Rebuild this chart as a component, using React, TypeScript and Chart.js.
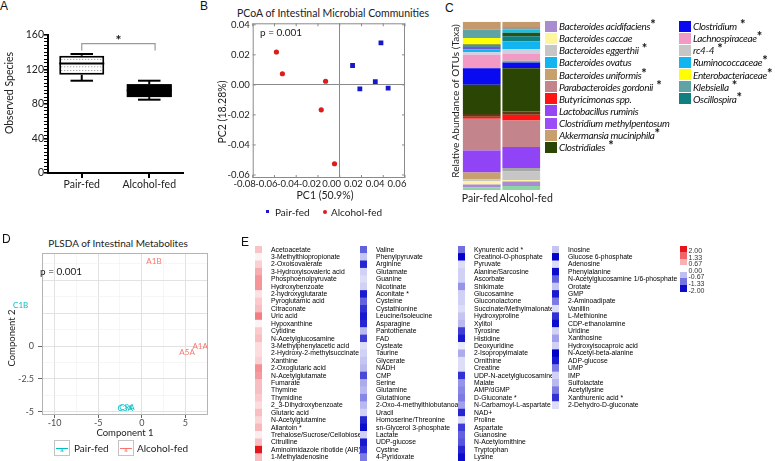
import React, { useEffect, useRef } from 'react';
import { Chart, registerables } from 'chart.js';

Chart.register(...registerables);

const SANS = 'Lato, "Open Sans", sans-serif';
const ARIAL = '"Liberation Sans", Arial, sans-serif';

// ---------------- Panel A: observed species (box plot)
const groups = ['Pair-fed', 'Alcohol-fed'];
const speciesMin = [107, 85];
const speciesQ1 = [114, 88];
const speciesMedian = [127, 96];
const speciesQ3 = [136, 103];
const speciesMax = [138, 107];
const speciesLabelTicks = [0, 40, 80, 120, 160];
const sigBracket = 150;
const sigBracketEnd = 142;

// ---------------- Panel B: PCoA
const pcoaPairX = [0.0379, 0.0118, 0.0327, 0.0185, 0.0445];
const pcoaPairY = [0.028, 0.0129, 0.0022, -0.0026, -0.0022];
const pcoaAlcX = [-0.0582, -0.0527, -0.013, -0.017, -0.0048];
const pcoaAlcY = [0.0219, 0.0074, 0.0024, -0.0166, -0.0525];
const pcoaXTicks = [-0.08, -0.06, -0.04, -0.02, 0, 0.02, 0.04, 0.06];
const pcoaYTicks = [-0.06, -0.04, -0.02, 0, 0.02, 0.04];

// ---------------- Panel C: relative abundance (stacked, bottom to top)
const segNames = [
  'Other 1', 'Bacteroides acidifaciens', 'Bacteroides caccae', 'Bacteroides eggerthii', 'rc4-4',
  'Bacteroides uniformis', 'Lactobacillus ruminis', 'Parabacteroides gordonii', 'Butyricimonas spp.', 'Other 2',
  'Clostridiales', 'Clostridium', 'Other 3', 'Lachnospiraceae', 'Other 4',
  'Ruminococcaceae', 'Clostridium methylpentosum', 'Oscillospira', 'Other 5', 'Enterobacteriaceae',
  'Bacteroides ovatus', 'Klebsiella', 'Other 6', 'Akkermansia muciniphila',
];
const segPair = [1.6, 1.6, 2.2, 1.0, 0, 4.0, 13.1, 18.8, 1.2, 1.6, 17.4, 9.9, 0, 7.9, 1.6, 1.6, 1.6, 0.8, 0.6, 3.8, 0, 5.0, 0, 4.7];
const segAlc = [2.4, 2.6, 1.0, 5.0, 2.0, 0, 12.5, 15.8, 3.4, 2.0, 25.7, 3.4, 1.0, 4.0, 3.0, 4.6, 0, 3.0, 2.0, 0, 1.8, 0, 1.6, 3.2];
const segColors = [
  '#8fd3a8', '#a98bd0', '#fff4a3', '#c6c6c6', '#a6a6a6',
  '#c7a06e', '#9143f6', '#c4848c', '#ff1212', '#5c3a12',
  '#2b4504', '#0a0af0', '#6cc070', '#f29ac6', '#cfcfe0',
  '#12b5ef', '#6a5acd', '#0f7f80', '#2e5010', '#ffff00',
  '#18c0e0', '#5fa3a5', '#9a9a9a', '#c49a6c',
];
const legendNames1 = [
  'Bacteroides acidifaciens', 'Bacteroides caccae', 'Bacteroides eggerthii', 'Bacteroides ovatus',
  'Bacteroides uniformis', 'Parabacteroides gordonii', 'Butyricimonas spp.', 'Lactobacillus ruminis',
  'Clostridium methylpentosum', 'Akkermansia muciniphila', 'Clostridiales',
];
const legendStars1 = ['*', '', ' *', '', '*', ' *', '', '', '', '*', ' *'];
const legendColors1 = ['#a98bd0', '#fff59d', '#c6c6c6', '#12b5ef', '#c7a06e', '#c4848c', '#ff1414', '#9645f5', '#9c4df7', '#c7a06e', '#2b4504'];
const legendNames2 = ['Clostridium', 'Lachnospiraceae', 'rc4-4', 'Ruminococcaceae', 'Enterobacteriaceae', 'Klebsiella', 'Oscillospira'];
const legendStars2 = [' *', '*', ' *', '*', '*', ' *', '*'];
const legendColors2 = ['#0a0af0', '#f29ac6', '#c6c6c6', '#12b5ef', '#ffff00', '#5fa3a5', '#0f7f80'];

// ---------------- Panel D: PLSDA
const plsdaLabels = ['A1B', 'C1B', 'A1A', 'A5A', 'C3A', 'C9A'];
const plsdaGroup = ['Alcohol-fed', 'Pair-fed', 'Alcohol-fed', 'Alcohol-fed', 'Pair-fed', 'Pair-fed'];
const plsdaX = [1.4, -13.9, 6.7, 5.2, -1.9, -1.7];
const plsdaY = [6.4, 3.1, 0.0, -0.5, -4.75, -4.65];
const plsdaXGrid = [-10, -7.5, -5, -2.5, 0, 2.5, 5, 7.5];
const plsdaXTickLabels = [-10, -5, 0, 5];
const plsdaYGrid = [-5, -3.75, -2.5, -1.25, 0, 1.25, 2.5, 3.75, 5, 6.25];
const plsdaYTickLabels = [-5, -2.5, 0];

// ---------------- Panel E: metabolite heatmap
const metCol1 = [
  'Acetoacetate', '3-Methylthiopropionate', '2-Oxoisovalerate', '3-Hydroxyisovaleric acid', 'Phosphoenolpyruvate',
  'Hydroxybenzoate', '2-hydroxyglutarate', 'Pyroglutamic acid', 'Citraconate', 'Uric acid', 'Hypoxanthine',
  'Cytidine', 'N-Acetylglucosamine', '3-Methylphenylacetic acid', '2-Hydroxy-2-methylsuccinate', 'Xanthine',
  '2-Oxoglutaric acid', 'N-Acetylglutamate', 'Fumarate', 'Thymine', 'Thymidine', '2_3-Dihydroxybenzoate',
  'Glutaric acid', 'N-Acetylglutamine', 'Allantoin *', 'Trehalose/Sucrose/Cellobiose', 'Citrulline',
  'Aminoimidazole ribotide (AIR)', '1-Methyladenosine',
];
const valCol1 = [0.5, 0.1, 0.4, 0.7, 0.9, 0.9, 0.25, 0.45, 0.55, 1.1, 0.1, 0.45, 0.55, 0.3, 0.3, 0.4, 0.95, 0.85, 0.55, 0.55, 0.45, 0.3, 0.55, 0.35, 0.6, 0.15, 0.55, 2.0, 0.55];
const metCol2 = [
  'Valine', 'Phenylpyruvate', 'Arginine', 'Glutamate', 'Guanine', 'Nicotinate', 'Aconitate *', 'Cysteine',
  'Cystathionine', 'Leucine/Isoleucine', 'Asparagine', 'Pantothenate', 'FAD', 'Cysteate', 'Taurine', 'Glycerate',
  'NADH', 'CMP', 'Serine', 'Glutamine', 'Glutathione', '2-Oxo-4-methylthiobutanoate', 'Uracil',
  'Homoserine/Threonine', 'sn-Glycerol 3-phosphate', 'Lactate', 'UDP-glucose', 'Cystine', '4-Pyridoxate',
];
const valCol2 = [-1.2, -0.4, -1.7, -0.3, -0.2, -0.3, -1.8, -1.2, -1.6, -1.8, -1.7, -0.5, -1.5, -0.2, -0.3, -0.4, -0.5, -1.4, -0.6, -0.5, -0.9, -0.5, -0.3, -1.7, -1.9, -0.3, -1.8, -1.6, -1.0];
const metCol3 = [
  'Kynurenic acid *', 'Creatinol-O-phosphate', 'Pyruvate', 'Alanine/Sarcosine', 'Ascorbate', 'Shikimate',
  'Glucosamine', 'Gluconolactone', 'Succinate/Methylmalonate', 'Hydroxyproline', 'Xylitol', 'Tyrosine',
  'Histidine', 'Deoxyuridine', '2-Isopropylmalate', 'Ornithine', 'Creatine', 'UDP-N-acetylglucosamine', 'Malate',
  'AMP/dGMP', 'D-Gluconate *', 'N-Carbamoyl-L-aspartate', 'NAD+', 'Proline', 'Aspartate', 'Guanosine',
  'N-Acetylornithine', 'Tryptophan', 'Lysine',
];
const valCol3 = [-1.1, -2.0, -0.2, -0.3, -0.3, -0.8, -0.3, -0.3, -0.2, -0.4, -0.5, -1.5, -1.8, -0.1, -0.6, -0.2, -0.2, -1.6, -0.8, -0.9, -1.0, -0.7, -1.7, -0.2, -1.5, -1.2, -1.3, -1.7, -1.9];
const metCol4 = [
  'Inosine', 'Glucose 6-phosphate', 'Adenosine', 'Phenylalanine', 'N-Acetylglucosamine 1/6-phosphate', 'Orotate',
  'GMP', '2-Aminoadipate', 'Vanillin', 'L-Methionine', 'CDP-ethanolamine', 'Uridine', 'Xanthosine',
  'Hydroxyisocaproic acid', 'N-Acetyl-beta-alanine', 'ADP-glucose', 'UMP', 'IMP', 'Sulfolactate', 'Acetyllysine',
  'Xanthurenic acid *', '2-Dehydro-D-gluconate',
];
const valCol4 = [-0.4, -2.0, -0.2, -1.9, -1.2, -0.4, -1.8, -1.0, -0.2, -1.6, -1.9, -0.3, -0.7, -0.3, -2.0, -1.8, -1.0, -0.3, -0.5, -1.0, -1.6, -0.2];
const heatLegendTicks = ['2.00', '1.33', '0.67', '0.00', '-0.67', '-1.33', '-2.00'];
const heatLegendSwatches = [2, 1.33, 0.67, -0.45, -1.05, -1.9];

// ---------------- helpers
const PAIR_D = '#00BFC4';
const ALC_D = '#F8766D';
const ROW_H = 7.4;
const CELL_W = 7;

function heatColor(v: number) {
  if (v >= 0) {
    const t = Math.min(v / 2, 1);
    return `rgb(${Math.round(255 - 23 * t)},${Math.round(255 - 235 * t)},${Math.round(255 - 227 * t)})`;
  }
  const t = Math.min(-v / 2, 1);
  return `rgb(${Math.round(246 - 246 * t)},${Math.round(246 - 246 * t)},${Math.round(252 - 50 * t)})`;
}

function seg(ctx: any, x1: number, y1: number, x2: number, y2: number) {
  ctx.beginPath();
  ctx.moveTo(x1, y1);
  ctx.lineTo(x2, y2);
  ctx.stroke();
}

const base = { responsive: false, animation: false, devicePixelRatio: 1, events: [] as string[] };
const noPlugins = { legend: { display: false }, tooltip: { enabled: false }, title: { display: false } };

// ---------------- plugins
const boxPlugin = {
  id: 'boxWhiskers',
  afterDatasetsDraw(chart: any) {
    const ctx = chart.ctx;
    const y = chart.scales.y;
    const meta = chart.getDatasetMeta(0);
    ctx.save();
    meta.data.forEach((bar: any, i: number) => {
      const cx = bar.x;
      const half = bar.width / 2;
      const pMax = y.getPixelForValue(speciesMax[i]);
      const pMin = y.getPixelForValue(speciesMin[i]);
      const pQ3 = y.getPixelForValue(speciesQ3[i]);
      const pQ1 = y.getPixelForValue(speciesQ1[i]);
      const pMed = y.getPixelForValue(speciesMedian[i]);
      if (i === 0) {
        ctx.strokeStyle = '#8a8a8a';
        ctx.lineWidth = 1;
        ctx.setLineDash([1, 2]);
        for (let yy = pQ3 + 3.7; yy < pQ1 - 1.5; yy += 3.7) {
          if (Math.abs(yy - pMed) > 1.5) seg(ctx, cx - half + 2, yy, cx + half - 2, yy);
        }
        ctx.setLineDash([]);
      } else {
        ctx.fillStyle = '#000';
        ctx.fillRect(cx - half, pQ3, 2 * half, pQ1 - pQ3);
      }
      ctx.strokeStyle = '#000';
      ctx.lineWidth = 2;
      seg(ctx, cx, pQ3, cx, pMax);
      seg(ctx, cx, pQ1, cx, pMin);
      const cap = half * 0.5;
      seg(ctx, cx - cap, pMax, cx + cap, pMax);
      seg(ctx, cx - cap, pMin, cx + cap, pMin);
      seg(ctx, cx - half, pMed, cx + half, pMed);
    });
    const b0 = meta.data[0];
    const b1 = meta.data[1];
    const x0 = b0.x;
    const x1 = b1.x + b1.width * 0.13;
    const yb = y.getPixelForValue(sigBracket);
    const ye = y.getPixelForValue(sigBracketEnd);
    ctx.strokeStyle = '#9a9a9a';
    ctx.lineWidth = 1.2;
    ctx.beginPath();
    ctx.moveTo(x0, ye);
    ctx.lineTo(x0, yb);
    ctx.lineTo(x1, yb);
    ctx.lineTo(x1, ye);
    ctx.stroke();
    ctx.fillStyle = '#111';
    ctx.font = `bold 14px ${SANS}`;
    ctx.textAlign = 'center';
    ctx.textBaseline = 'alphabetic';
    ctx.fillText('*', (x0 + x1) / 2, yb + 1);
    ctx.restore();
  },
};

const frameTicksPlugin = {
  id: 'frameTicks',
  afterDraw(chart: any) {
    const { ctx, chartArea: a } = chart;
    const x = chart.scales.x;
    const y = chart.scales.y;
    ctx.save();
    ctx.strokeStyle = '#8a8a8a';
    ctx.lineWidth = 1;
    ctx.strokeRect(a.left + 0.5, a.top + 0.5, a.right - a.left - 1, a.bottom - a.top - 1);
    x.ticks.forEach((t: any) => {
      const px = x.getPixelForValue(t.value);
      seg(ctx, px, a.bottom, px, a.bottom - 3);
      seg(ctx, px, a.top, px, a.top + 3);
    });
    y.ticks.forEach((t: any) => {
      const py = y.getPixelForValue(t.value);
      seg(ctx, a.left, py, a.left + 3, py);
      seg(ctx, a.right, py, a.right - 3, py);
    });
    ctx.restore();
  },
};

const panelBorderPlugin = {
  id: 'panelBorder',
  beforeDatasetsDraw(chart: any) {
    const { ctx, chartArea: a } = chart;
    ctx.save();
    ctx.strokeStyle = '#b4b4b4';
    ctx.lineWidth = 1;
    ctx.strokeRect(a.left + 0.5, a.top + 0.5, a.right - a.left - 1, a.bottom - a.top - 1);
    ctx.restore();
  },
};

const plsdaLabelPlugin = {
  id: 'plsdaLabels',
  afterDatasetsDraw(chart: any) {
    const { ctx } = chart;
    const x = chart.scales.x;
    const y = chart.scales.y;
    ctx.save();
    ctx.font = `8px ${SANS}`;
    ctx.textAlign = 'center';
    ctx.textBaseline = 'middle';
    plsdaLabels.forEach((lab, i) => {
      ctx.fillStyle = plsdaGroup[i] === 'Pair-fed' ? PAIR_D : ALC_D;
      ctx.fillText(lab, x.getPixelForValue(plsdaX[i]), y.getPixelForValue(plsdaY[i]));
    });
    ctx.restore();
  },
};

// ---------------- chart configs
function configA() {
  return {
    type: 'bar',
    data: {
      labels: groups,
      datasets: [{
        data: groups.map((_, i) => [speciesQ1[i], speciesQ3[i]]),
        backgroundColor: ['#ffffff', '#000000'],
        borderColor: '#000',
        borderWidth: 2,
        borderSkipped: false,
        barPercentage: 0.667,
        categoryPercentage: 1,
      }],
    },
    options: {
      ...base,
      layout: { padding: { left: 0, top: 35, right: 17, bottom: 0 } },
      plugins: noPlugins,
      scales: {
        x: {
          grid: { display: true, drawOnChartArea: false, offset: false, tickLength: 5, color: '#000', lineWidth: 2 },
          border: { color: '#000', width: 2 },
          ticks: { font: { family: SANS, size: 10.5 }, color: '#222', padding: 0, maxRotation: 0, autoSkip: false },
          afterFit: (s: any) => { s.height = 20; },
        },
        y: {
          min: 0,
          max: 160,
          ticks: {
            stepSize: 4,
            autoSkip: false,
            callback: (v: number) => (speciesLabelTicks.includes(v) ? String(v) : ''),
            font: { family: SANS, size: 10.5 },
            color: '#222',
            padding: 0,
          },
          grid: {
            drawOnChartArea: false,
            tickLength: 4,
            color: '#000',
            lineWidth: (c: any) => (c.tick && speciesLabelTicks.includes(c.tick.value) ? 1.6 : 1),
          },
          border: { color: '#000', width: 2 },
          afterFit: (s: any) => { s.width = 48; },
        },
      },
    },
    plugins: [boxPlugin],
  };
}

const fmt2 = (v: number) => (Math.abs(v) < 1e-9 ? '0.00' : v.toFixed(2));

function configB() {
  return {
    type: 'scatter',
    data: {
      datasets: [
        {
          label: 'Pair-fed',
          data: pcoaPairX.map((x, i) => ({ x, y: pcoaPairY[i] })),
          pointStyle: 'rect',
          pointRadius: 3.4,
          backgroundColor: '#1818c8',
          borderWidth: 0,
        },
        {
          label: 'Alcohol-fed',
          data: pcoaAlcX.map((x, i) => ({ x, y: pcoaAlcY[i] })),
          pointStyle: 'circle',
          pointRadius: 2.6,
          backgroundColor: '#dd1c1c',
          borderWidth: 0,
        },
      ],
    },
    options: {
      ...base,
      layout: { padding: { left: 0, top: 23.3, right: 20, bottom: 0 } },
      plugins: noPlugins,
      scales: {
        x: {
          min: -0.08,
          max: 0.06,
          afterBuildTicks: (s: any) => { s.ticks = pcoaXTicks.map((v) => ({ value: v })); },
          ticks: { callback: fmt2, font: { family: SANS, size: 9.5 }, color: '#222', padding: 0, labelOffset: -8, maxRotation: 0, autoSkip: false },
          grid: { drawTicks: false, color: (c: any) => (c.tick && Math.abs(c.tick.value) < 1e-9 ? '#8a8a8a' : 'rgba(0,0,0,0)'), lineWidth: 1 },
          border: { display: false },
          afterFit: (s: any) => { s.height = 14; },
        },
        y: {
          min: -0.062,
          max: 0.041,
          afterBuildTicks: (s: any) => { s.ticks = pcoaYTicks.map((v) => ({ value: v })); },
          ticks: { callback: fmt2, font: { family: SANS, size: 9.5 }, color: '#222', padding: 3, autoSkip: false },
          grid: { drawTicks: false, color: (c: any) => (c.tick && Math.abs(c.tick.value) < 1e-9 ? '#8a8a8a' : 'rgba(0,0,0,0)'), lineWidth: 1 },
          border: { display: false },
          afterFit: (s: any) => { s.width = 37.7; },
        },
      },
    },
    plugins: [frameTicksPlugin],
  };
}

function configC() {
  return {
    type: 'bar',
    data: {
      labels: groups,
      datasets: segNames.map((n, i) => ({
        label: n,
        data: [segPair[i], segAlc[i]],
        backgroundColor: segColors[i],
        borderWidth: 0,
        barPercentage: 0.955,
        categoryPercentage: 1,
      })),
    },
    options: {
      ...base,
      layout: { padding: { left: 0, top: 21.7, right: 9, bottom: 0 } },
      plugins: noPlugins,
      scales: {
        x: {
          stacked: true,
          grid: { display: false },
          border: { display: false },
          ticks: { display: false },
          afterFit: (s: any) => { s.height = 16; },
        },
        y: {
          stacked: true,
          min: 0,
          max: 100,
          ticks: { display: false },
          grid: { display: false },
          border: { display: false },
          afterFit: (s: any) => { s.width = 22; },
        },
      },
    },
  };
}

function configD() {
  return {
    type: 'scatter',
    data: {
      datasets: [{ data: plsdaX.map((x, i) => ({ x, y: plsdaY[i] })), pointRadius: 0 }],
    },
    options: {
      ...base,
      layout: { padding: { left: 0, top: 18, right: 7, bottom: 0 } },
      plugins: noPlugins,
      scales: {
        x: {
          min: -11.45,
          max: 7.6,
          afterBuildTicks: (s: any) => { s.ticks = plsdaXGrid.map((v) => ({ value: v })); },
          ticks: {
            callback: (v: number) => (plsdaXTickLabels.includes(v) ? String(v) : ''),
            font: { family: SANS, size: 9 },
            color: '#4d4d4d',
            padding: 0,
            autoSkip: false,
            maxRotation: 0,
          },
          grid: {
            color: (c: any) => (c.tick && c.tick.value % 5 === 0 ? '#e2e2e2' : '#f0f0f0'),
            lineWidth: (c: any) => (c.tick && c.tick.value % 5 === 0 ? 1 : 0.6),
            tickLength: 3,
            tickColor: (c: any) => (c.tick && plsdaXTickLabels.includes(c.tick.value) ? '#666' : 'rgba(0,0,0,0)'),
          },
          border: { display: false },
          afterFit: (s: any) => { s.height = 14; },
        },
        y: {
          min: -5.23,
          max: 7.05,
          afterBuildTicks: (s: any) => { s.ticks = plsdaYGrid.map((v) => ({ value: v })); },
          ticks: {
            callback: (v: number) => (plsdaYTickLabels.includes(v) ? String(v) : ''),
            font: { family: SANS, size: 9 },
            color: '#4d4d4d',
            padding: 4,
            autoSkip: false,
          },
          grid: {
            color: (c: any) => (c.tick && c.tick.value % 2.5 === 0 ? '#e2e2e2' : '#f0f0f0'),
            lineWidth: (c: any) => (c.tick && c.tick.value % 2.5 === 0 ? 1 : 0.6),
            tickLength: 4,
            tickColor: (c: any) => (c.tick && plsdaYTickLabels.includes(c.tick.value) ? '#666' : 'rgba(0,0,0,0)'),
          },
          border: { display: false },
          afterFit: (s: any) => { s.width = 42; },
        },
      },
    },
    plugins: [panelBorderPlugin, plsdaLabelPlugin],
  };
}

function configHeat(names: string[], values: number[], width: number) {
  return {
    type: 'bar',
    data: {
      labels: names,
      datasets: [{
        data: values.map(() => 1),
        backgroundColor: values.map(heatColor),
        borderWidth: 0,
        barPercentage: 1,
        categoryPercentage: 1,
      }],
    },
    options: {
      ...base,
      indexAxis: 'y',
      layout: { padding: { left: 0, right: 0, top: 5, bottom: 5 } },
      plugins: noPlugins,
      scales: {
        x: { display: false, min: 0, max: 1 },
        y: {
          position: 'right',
          grid: { display: false },
          border: { display: false },
          ticks: { autoSkip: false, font: { family: ARIAL, size: 6.8, lineHeight: 1 }, color: '#000', padding: 1 },
          afterFit: (s: any) => { s.width = width - CELL_W; },
        },
      },
    },
  };
}

// ---------------- components
function ChartCanvas({ left, top, width, height, make }: any) {
  const ref = useRef<HTMLCanvasElement>(null);
  useEffect(() => {
    const chart = new Chart(ref.current as HTMLCanvasElement, make() as any);
    return () => chart.destroy();
  }, []);
  return (
    <canvas
      ref={ref}
      width={width}
      height={height}
      style={{ position: 'absolute', left, top, width, height, display: 'block' }}
    />
  );
}

function Txt({ x, y, size = 10, color = '#222', family = SANS, align = 'left', children, weight = 400, italic = false }: any) {
  const tx = align === 'center' ? '-50%' : align === 'right' ? '-100%' : '0';
  return (
    <div
      style={{
        position: 'absolute',
        left: x,
        top: y,
        transform: `translate(${tx}, -50%)`,
        fontSize: size,
        lineHeight: 1.2,
        fontFamily: family,
        color,
        whiteSpace: 'pre',
        fontWeight: weight,
        fontStyle: italic ? 'italic' : 'normal',
      }}
    >
      {children}
    </div>
  );
}

function VTxt({ x, y, size = 10, color = '#222', children }: any) {
  return (
    <div
      style={{
        position: 'absolute',
        left: x,
        top: y,
        transform: 'translate(-50%, -50%) rotate(-90deg)',
        fontSize: size,
        lineHeight: 1.2,
        fontFamily: SANS,
        color,
        whiteSpace: 'nowrap',
      }}
    >
      {children}
    </div>
  );
}

function Letter({ x, y, children }: any) {
  return (
    <div style={{ position: 'absolute', left: x, top: y, fontFamily: ARIAL, fontSize: 12, lineHeight: '12px', color: '#111' }}>
      {children}
    </div>
  );
}

function TaxaLegend({ x, names, stars, colors }: any) {
  return (
    <>
      {names.map((name: string, i: number) => (
        <div
          key={name}
          style={{ position: 'absolute', left: x, top: 20.5 + i * 12.13, height: 11, display: 'flex', alignItems: 'center', whiteSpace: 'pre' }}
        >
          <div style={{ width: 12, height: 11, background: colors[i], marginRight: 2, flex: '0 0 auto' }} />
          <span style={{ fontFamily: SANS, fontStyle: 'italic', fontSize: 10, letterSpacing: -0.35, color: '#111' }}>{name}</span>
          <span style={{ fontFamily: SANS, fontWeight: 700, fontSize: 13, position: 'relative', top: -2, color: '#111' }}>{stars[i]}</span>
        </div>
      ))}
    </>
  );
}

function KeyBox({ x, y, color }: any) {
  return (
    <div style={{ position: 'absolute', left: x, top: y, width: 16, height: 16, border: '1px solid #c4c4c4', boxSizing: 'border-box', background: '#fff' }}>
      <div style={{ position: 'absolute', left: 1, right: 1, top: 7, height: 1, background: color }} />
      <div style={{ position: 'absolute', left: 0, right: 0, top: 6, textAlign: 'center', fontSize: 6, lineHeight: '6px', color, fontFamily: ARIAL }}>a</div>
    </div>
  );
}

export default function App() {
  return (
    <div style={{ position: 'absolute', left: 0, top: 0, width: 775, height: 461, background: '#fff', overflow: 'hidden', fontFamily: SANS }}>
      {/* Panel A */}
      <Letter x={0} y={0}>A</Letter>
      <ChartCanvas left={0} top={0} width={200} height={193} make={configA} />
      <VTxt x={8.5} y={92.7} size={10.5}>Observed Species</VTxt>

      {/* Panel B */}
      <Letter x={200} y={0}>B</Letter>
      <Txt x={333} y={13} size={10.5} align="center">PCoA of Intestinal Microbial Communities</Txt>
      <ChartCanvas left={215} top={0} width={210} height={192} make={configB} />
      <VTxt x={222} y={112} size={10.5}>PC2 (18.28%)</VTxt>
      <Txt x={325} y={195} size={10.5} align="center">PC1 (50.9%)</Txt>
      <Txt x={260} y={32} size={10}>p = 0.001</Txt>
      <div style={{ position: 'absolute', left: 266, top: 210, width: 3, height: 3, background: '#1818c8' }} />
      <Txt x={275} y={212} size={10}>Pair-fed</Txt>
      <div style={{ position: 'absolute', left: 323, top: 210, width: 4, height: 4, borderRadius: 2, background: '#dd1c1c' }} />
      <Txt x={331} y={212} size={10}>Alcohol-fed</Txt>

      {/* Panel C */}
      <Letter x={445} y={2}>C</Letter>
      <ChartCanvas left={440} top={0} width={110} height={206} make={configC} />
      <VTxt x={455} y={101} size={10}>Relative Abundance of OTUs (Taxa)</VTxt>
      <Txt x={480} y={198} size={10.5} align="center">{groups[0]}</Txt>
      <Txt x={526} y={198} size={10.5} align="center">{groups[1]}</Txt>
      <TaxaLegend x={545} names={legendNames1} stars={legendStars1} colors={legendColors1} />
      <TaxaLegend x={679} names={legendNames2} stars={legendStars2} colors={legendColors2} />

      {/* Panel D */}
      <Letter x={2} y={233}>D</Letter>
      <Txt x={118} y={243} size={10} align="center">PLSDA of Intestinal Metabolites</Txt>
      <ChartCanvas left={0} top={235} width={215} height={194} make={configD} />
      <VTxt x={12} y={338} size={9.5}>Component 2</VTxt>
      <Txt x={125} y={432.7} size={9.5} align="center">Component 1</Txt>
      <Txt x={40} y={271} size={10}>p = 0.001</Txt>
      <KeyBox x={54} y={440} color={PAIR_D} />
      <Txt x={74} y={448} size={10}>Pair-fed</Txt>
      <KeyBox x={118} y={440} color={ALC_D} />
      <Txt x={137} y={448} size={10}>Alcohol-fed</Txt>

      {/* Panel E */}
      <Letter x={241} y={236}>E</Letter>
      <ChartCanvas left={255} top={241} width={120} height={225} make={() => configHeat(metCol1, valCol1, 120)} />
      <ChartCanvas left={360} top={241} width={115} height={225} make={() => configHeat(metCol2, valCol2, 115)} />
      <ChartCanvas left={458} top={241} width={110} height={225} make={() => configHeat(metCol3, valCol3, 110)} />
      <ChartCanvas left={552} top={241} width={126} height={Math.round(metCol4.length * ROW_H + 10)} make={() => configHeat(metCol4, valCol4, 126)} />
      {heatLegendSwatches.map((v, i) => (
        <div
          key={'sw' + i}
          style={{
            position: 'absolute',
            left: 680,
            top: i < 3 ? 245.7 + i * 6.45 : 271.7 + (i - 3) * 6.67,
            width: 7,
            height: i < 3 ? 6.45 : 6.67,
            background: heatColor(v),
          }}
        />
      ))}
      {heatLegendTicks.map((t, i) => (
        <Txt key={'lt' + i} x={688.5} y={251 + i * 6.62} size={7} family={ARIAL} color="#333">{t}</Txt>
      ))}
    </div>
  );
}
